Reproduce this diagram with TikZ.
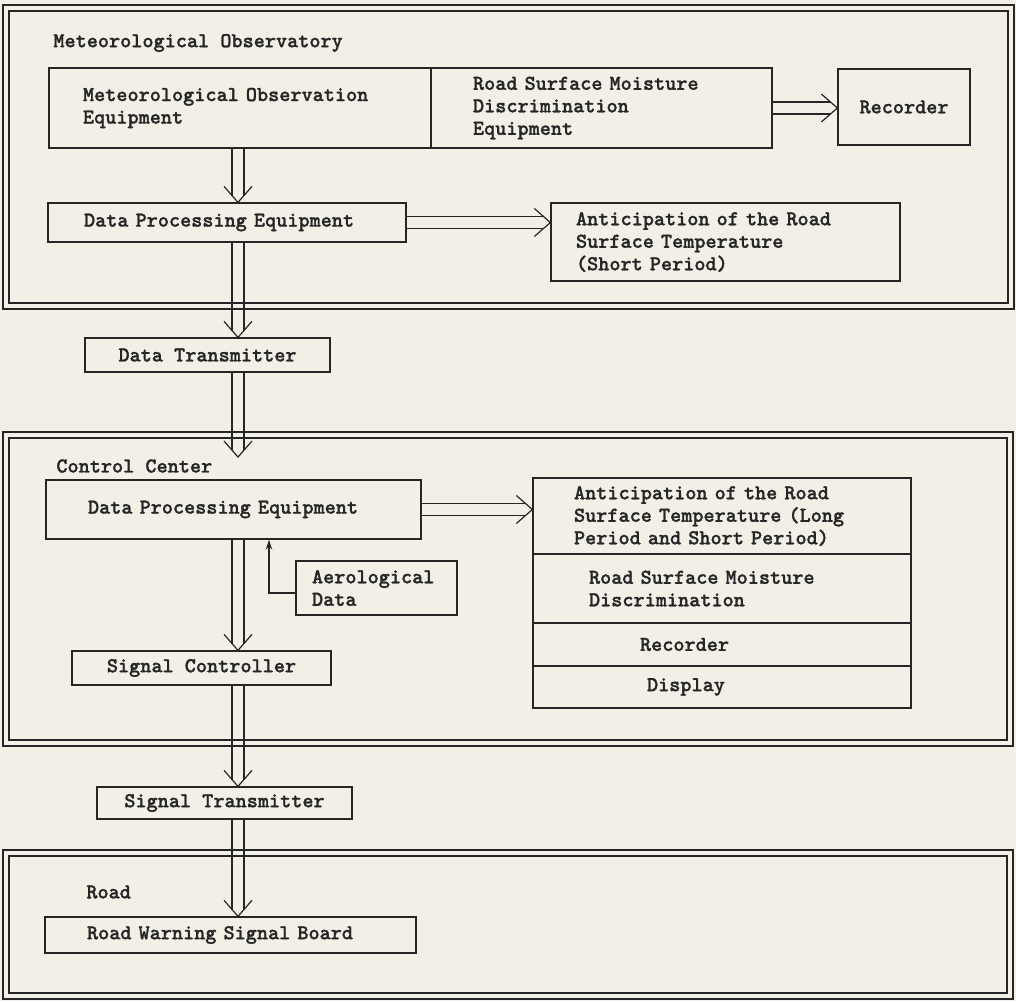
\documentclass[tikz,border=0pt]{standalone}
\usepackage{fontspec}
\newfontfamily\twfont{lmmonolt10-bold.otf}[FakeBold=1.2]
\usetikzlibrary{calc,arrows.meta}
\definecolor{paper}{RGB}{242,240,230}
\definecolor{ink}{RGB}{38,38,38}
\tikzset{
  txt/.style={font=\fontsize{10.6}{11.25}\selectfont\twfont, text=ink},
  box/.style={txt, draw=ink, line width=0.65pt, inner ysep=0pt, align=left},
  cbox/.style={txt, draw=ink, line width=0.65pt, inner ysep=0pt, align=center},
  frame/.style={draw=ink, line width=0.6pt, double=paper, double distance=2.4pt, inner sep=0pt},
  conn/.style={draw=ink, line width=0.6pt},
  lbl/.style={txt, anchor=west, inner sep=0pt},
}
\newcommand{\hollowarrow}[2]{%
  \coordinate (hD) at ($(#2)!3.4pt!(#1)$);
  \coordinate (hC) at ($(#2)!8pt!(#1)$);
  \draw[conn] ($(#1)!3pt!90:(#2)$) -- ($(hD)!3pt!-90:(#1)$);
  \draw[conn] ($(#1)!3pt!-90:(#2)$) -- ($(hD)!3pt!90:(#1)$);
  \draw[conn] ($(hC)!7pt!90:(#1)$) -- (#2) -- ($(hC)!7pt!-90:(#1)$);
}
\begin{document}
\begin{tikzpicture}[x=0.5pt,y=-0.5pt]
\fill[paper] (0,0) rectangle (1016,1001);
\useasboundingbox (0,0) rectangle (1016,1001);

% frames
\node[frame, minimum width=502.5pt, minimum height=149pt] (obsF) at (508.5,157) {};
\node[frame, minimum width=502pt, minimum height=154pt] (ccF) at (508,589) {};
\node[frame, minimum width=502pt, minimum height=71.5pt] (roadF) at (508,924.5) {};

% labels
\node[lbl] (obsL) at (53,43) {Meteorological Observatory};
\node[lbl] (ccL) at (56,466) {Control Center};
\node[lbl] (roadL) at (86,892) {Road};

% boxes
\node[box, inner xsep=17pt, text width=157pt, minimum width=191pt, minimum height=40pt] (mainL) at (240,108) {Meteorological Observation\\Equipment};
\node[box, inner xsep=21pt, text width=128.5pt, minimum width=170.5pt, minimum height=40pt] (mainR) at (601.5,108) {Road Surface Moisture\\Discrimination\\Equipment};
\node[cbox, minimum width=66pt, minimum height=38pt] (rec) at (904,107) {Recorder};
\node[box, inner xsep=18pt, text width=143pt, minimum width=179pt, minimum height=19.5pt] (dpe) at (227,222.5) {Data Processing Equipment};
\node[box, inner xsep=12.5pt, text width=149.5pt, minimum width=174.5pt, minimum height=39pt] (antS) at (725.5,242) {Anticipation of the Road\\Surface Temperature\\(Short Period)};
\node[cbox, minimum width=122.5pt, minimum height=17pt] (dt) at (207.5,355) {Data Transmitter};
\node[box, inner xsep=21pt, text width=145.5pt, minimum width=187.5pt, minimum height=29.5pt] (dpecc) at (233.5,509.5) {Data Processing Equipment};
\node[box, inner xsep=8pt, text width=64.5pt, minimum width=80.5pt, minimum height=27pt] (aero) at (376.5,588) {Aerological\\Data};
\node[cbox, minimum width=129.5pt, minimum height=17pt] (sc) at (201.5,668) {Signal Controller};
\node[box, inner xsep=20.5pt, text width=148pt, minimum width=189pt, minimum height=38pt] (s1) at (722,516) {Anticipation of the Road\\Surface Temperature (Long\\Period and Short Period)};
\node[box, inner xsep=28pt, text width=133pt, minimum width=189pt, minimum height=34.5pt] (s2) at (722,588.5) {Road Surface Moisture\\Discrimination};
\node[box, inner xsep=53.5pt, text width=82pt, minimum width=189pt, minimum height=21.5pt] (s3) at (722,644.5) {Recorder};
\node[box, inner xsep=57pt, text width=75pt, minimum width=189pt, minimum height=21pt] (s4) at (722,687) {Display};
\node[cbox, minimum width=127.5pt, minimum height=16pt] (st) at (224.5,803) {Signal Transmitter};
\node[box, inner xsep=21pt, text width=143.5pt, minimum width=185.5pt, minimum height=18pt] (rwsb) at (230.5,935) {Road Warning Signal Board};

% spine coordinates
\coordinate (sp) at (238,0);
\coordinate (a1s) at (mainL.south -| sp);
\coordinate (a1e) at (dpe.north -| sp);
\coordinate (a2s) at (dpe.south -| sp);
\coordinate (a2e) at (dt.north -| sp);
\coordinate (a3s) at (dt.south -| sp);
\coordinate (a3e) at (238,457);
\coordinate (a4s) at (dpecc.south -| sp);
\coordinate (a4e) at (sc.north -| sp);
\coordinate (a5s) at (sc.south -| sp);
\coordinate (a5e) at (st.north -| sp);
\coordinate (a6s) at (st.south -| sp);
\coordinate (a6e) at (rwsb.north -| sp);
\coordinate (h1s) at (mainR.east);
\coordinate (h1e) at (rec.west |- mainR.east);
\coordinate (h2s) at (dpe.east);
\coordinate (h2e) at (antS.west |- dpe.east);
\coordinate (h3s) at (dpecc.east);
\coordinate (h3e) at (s1.west |- dpecc.east);

\hollowarrow{a1s}{a1e}
\hollowarrow{a2s}{a2e}
\hollowarrow{a3s}{a3e}
\hollowarrow{a4s}{a4e}
\hollowarrow{a5s}{a5e}
\hollowarrow{a6s}{a6e}
\hollowarrow{h1s}{h1e}
\hollowarrow{h2s}{h2e}
\hollowarrow{h3s}{h3e}

% aerological data feed
\coordinate (ax) at (269,0);
\coordinate (aeroout) at ($(aero.west)+(0,5)$);
\draw[conn, -{Stealth[length=5pt, width=3.2pt]}] (aeroout) -| (dpecc.south -| ax);
\end{tikzpicture}
\end{document}
